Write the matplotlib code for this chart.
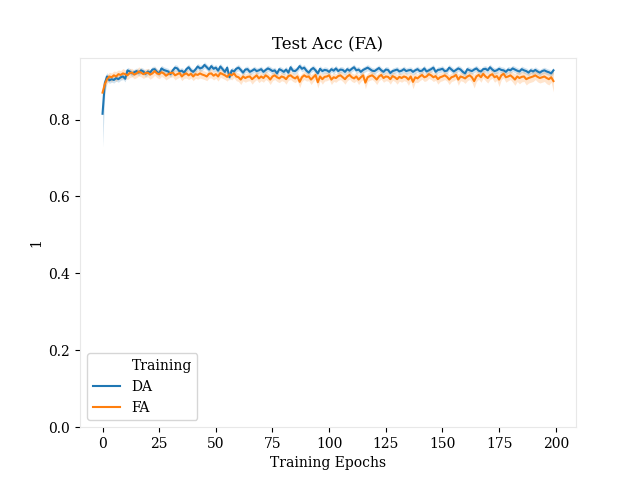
import numpy as np
import matplotlib
matplotlib.use("Agg")
import matplotlib.pyplot as plt
from matplotlib.lines import Line2D

plt.rcParams['font.family'] = ['DejaVu Serif']

# mean test accuracy per epoch
da_mean = [
    0.815, 0.895, 0.912, 0.902, 0.905, 0.903, 0.908, 0.905, 0.910, 0.912,
    0.906, 0.928, 0.925, 0.920, 0.923, 0.926, 0.922, 0.928, 0.925, 0.919,
    0.925, 0.922, 0.930, 0.931, 0.924, 0.920, 0.933, 0.929, 0.927, 0.925,
    0.918, 0.928, 0.935, 0.933, 0.925, 0.927, 0.922, 0.931, 0.936, 0.928,
    0.924, 0.930, 0.938, 0.933, 0.935, 0.942, 0.936, 0.930, 0.939, 0.932,
    0.935, 0.927, 0.938, 0.931, 0.924, 0.935, 0.910, 0.928, 0.925, 0.932,
    0.935, 0.929, 0.922, 0.930, 0.931, 0.924, 0.927, 0.931, 0.926, 0.928,
    0.931, 0.924, 0.929, 0.933, 0.930, 0.926, 0.928, 0.920, 0.931, 0.928,
    0.924, 0.930, 0.922, 0.936, 0.927, 0.926, 0.931, 0.939, 0.932, 0.935,
    0.927, 0.922, 0.930, 0.934, 0.928, 0.920, 0.932, 0.926, 0.929, 0.928,
    0.924, 0.931, 0.927, 0.933, 0.926, 0.930, 0.929, 0.924, 0.931, 0.927,
    0.932, 0.936, 0.928, 0.930, 0.924, 0.929, 0.932, 0.935, 0.931, 0.927,
    0.926, 0.930, 0.934, 0.928, 0.924, 0.930, 0.929, 0.921, 0.926, 0.928,
    0.930, 0.925, 0.927, 0.931, 0.926, 0.928, 0.929, 0.924, 0.928, 0.931,
    0.926, 0.927, 0.933, 0.925, 0.928, 0.931, 0.935, 0.924, 0.929, 0.930,
    0.932, 0.926, 0.927, 0.935, 0.930, 0.925, 0.929, 0.933, 0.930, 0.924,
    0.920, 0.931, 0.928, 0.926, 0.930, 0.933, 0.927, 0.925, 0.931, 0.932,
    0.928, 0.936, 0.930, 0.926, 0.928, 0.932, 0.929, 0.928, 0.924, 0.930,
    0.928, 0.933, 0.930, 0.927, 0.925, 0.931, 0.928, 0.926, 0.922, 0.928,
    0.925, 0.929, 0.925, 0.922, 0.926, 0.928, 0.925, 0.923, 0.920, 0.928,
]
fa_mean = [
    0.870, 0.892, 0.905, 0.912, 0.910, 0.915, 0.912, 0.918, 0.916, 0.920,
    0.918, 0.915, 0.921, 0.922, 0.917, 0.920, 0.925, 0.922, 0.918, 0.921,
    0.922, 0.917, 0.920, 0.926, 0.920, 0.918, 0.923, 0.920, 0.914, 0.918,
    0.921, 0.922, 0.915, 0.918, 0.921, 0.912, 0.918, 0.920, 0.915, 0.919,
    0.912, 0.918, 0.916, 0.920, 0.917, 0.915, 0.912, 0.919, 0.920, 0.914,
    0.918, 0.912, 0.921, 0.918, 0.915, 0.911, 0.918, 0.915, 0.920, 0.912,
    0.910, 0.904, 0.912, 0.908, 0.911, 0.912, 0.905, 0.910, 0.915, 0.907,
    0.912, 0.908, 0.915, 0.911, 0.904, 0.912, 0.915, 0.910, 0.907, 0.912,
    0.910, 0.905, 0.913, 0.915, 0.910, 0.907, 0.912, 0.898, 0.910, 0.915,
    0.911, 0.912, 0.904, 0.910, 0.916, 0.897, 0.912, 0.905, 0.911, 0.912,
    0.915, 0.904, 0.910, 0.908, 0.913, 0.915, 0.910, 0.905, 0.912, 0.916,
    0.910, 0.907, 0.912, 0.904, 0.910, 0.915, 0.896, 0.910, 0.913, 0.915,
    0.910, 0.904, 0.912, 0.916, 0.908, 0.912, 0.911, 0.905, 0.913, 0.910,
    0.905, 0.911, 0.908, 0.912, 0.910, 0.904, 0.912, 0.898, 0.910, 0.907,
    0.912, 0.916, 0.910, 0.912, 0.918, 0.915, 0.910, 0.913, 0.905, 0.910,
    0.912, 0.915, 0.911, 0.904, 0.910, 0.912, 0.916, 0.904, 0.912, 0.910,
    0.907, 0.912, 0.915, 0.910, 0.900, 0.912, 0.916, 0.910, 0.919, 0.912,
    0.908, 0.915, 0.918, 0.910, 0.913, 0.904, 0.915, 0.919, 0.910, 0.912,
    0.915, 0.910, 0.904, 0.912, 0.908, 0.911, 0.912, 0.905, 0.908, 0.910,
    0.912, 0.915, 0.911, 0.908, 0.910, 0.912, 0.908, 0.905, 0.910, 0.900,
]

# confidence band (lower / upper distance from the mean)
da_err_lo = [0.087, 0.030, 0.012] + [0.008] * 197
da_err_hi = [0.025, 0.018, 0.010] + [0.008] * 197
fa_err = [
    0.014, 0.012, 0.011, 0.011, 0.011, 0.011, 0.013, 0.011, 0.011, 0.013,
    0.011, 0.011, 0.012, 0.011, 0.011, 0.011, 0.012, 0.011, 0.011, 0.011,
    0.011, 0.012, 0.011, 0.011, 0.011, 0.012, 0.011, 0.011, 0.011, 0.011,
    0.011, 0.011, 0.012, 0.011, 0.011, 0.011, 0.011, 0.012, 0.011, 0.011,
    0.011, 0.011, 0.011, 0.012, 0.011, 0.011, 0.011, 0.011, 0.012, 0.011,
    0.011, 0.012, 0.011, 0.011, 0.011, 0.011, 0.011, 0.012, 0.011, 0.011,
    0.011, 0.013, 0.011, 0.011, 0.011, 0.011, 0.013, 0.011, 0.011, 0.011,
    0.011, 0.011, 0.011, 0.011, 0.013, 0.011, 0.011, 0.011, 0.011, 0.011,
    0.011, 0.013, 0.011, 0.011, 0.011, 0.011, 0.011, 0.015, 0.011, 0.011,
    0.011, 0.011, 0.013, 0.011, 0.011, 0.015, 0.011, 0.013, 0.011, 0.011,
    0.011, 0.013, 0.011, 0.011, 0.011, 0.011, 0.011, 0.013, 0.011, 0.011,
    0.011, 0.011, 0.011, 0.013, 0.011, 0.011, 0.016, 0.011, 0.011, 0.011,
    0.011, 0.013, 0.011, 0.011, 0.011, 0.011, 0.011, 0.013, 0.011, 0.011,
    0.013, 0.011, 0.011, 0.011, 0.011, 0.015, 0.011, 0.018, 0.013, 0.011,
    0.011, 0.011, 0.011, 0.011, 0.011, 0.011, 0.011, 0.011, 0.013, 0.011,
    0.011, 0.011, 0.011, 0.013, 0.011, 0.011, 0.011, 0.015, 0.011, 0.011,
    0.013, 0.011, 0.011, 0.013, 0.018, 0.013, 0.011, 0.013, 0.011, 0.011,
    0.013, 0.011, 0.011, 0.013, 0.011, 0.018, 0.011, 0.011, 0.013, 0.011,
    0.011, 0.013, 0.015, 0.013, 0.015, 0.013, 0.013, 0.015, 0.013, 0.013,
    0.013, 0.011, 0.013, 0.013, 0.013, 0.013, 0.015, 0.015, 0.013, 0.028,
]

epochs = np.arange(len(da_mean))
da_mean = np.array(da_mean)
fa_mean = np.array(fa_mean)
da_err_lo = np.array(da_err_lo)
da_err_hi = np.array(da_err_hi)
fa_err = np.array(fa_err)

fig, ax = plt.subplots(figsize=(6.4, 4.8), dpi=100)

ax.fill_between(epochs, da_mean - da_err_lo, da_mean + da_err_hi, color='#1f77b4', alpha=0.2, linewidth=0)
ax.plot(epochs, da_mean, color='#1f77b4', linewidth=1.5)
ax.fill_between(epochs, fa_mean - fa_err, fa_mean + fa_err, color='#ff7f0e', alpha=0.2, linewidth=0)
ax.plot(epochs, fa_mean, color='#ff7f0e', linewidth=1.5)

ax.set_ylim(0, None)
ax.set_title('Test Acc (FA)')
ax.set_xlabel('Training Epochs')
ax.set_ylabel('1')
for s in ax.spines.values():
    s.set_color('#e8e8e8')

handles = [Line2D([], [], color='none'),
           Line2D([], [], color='#1f77b4', linewidth=1.5),
           Line2D([], [], color='#ff7f0e', linewidth=1.5)]
ax.legend(handles, ['Training', 'DA', 'FA'], loc='lower left')

plt.savefig('out.png')
